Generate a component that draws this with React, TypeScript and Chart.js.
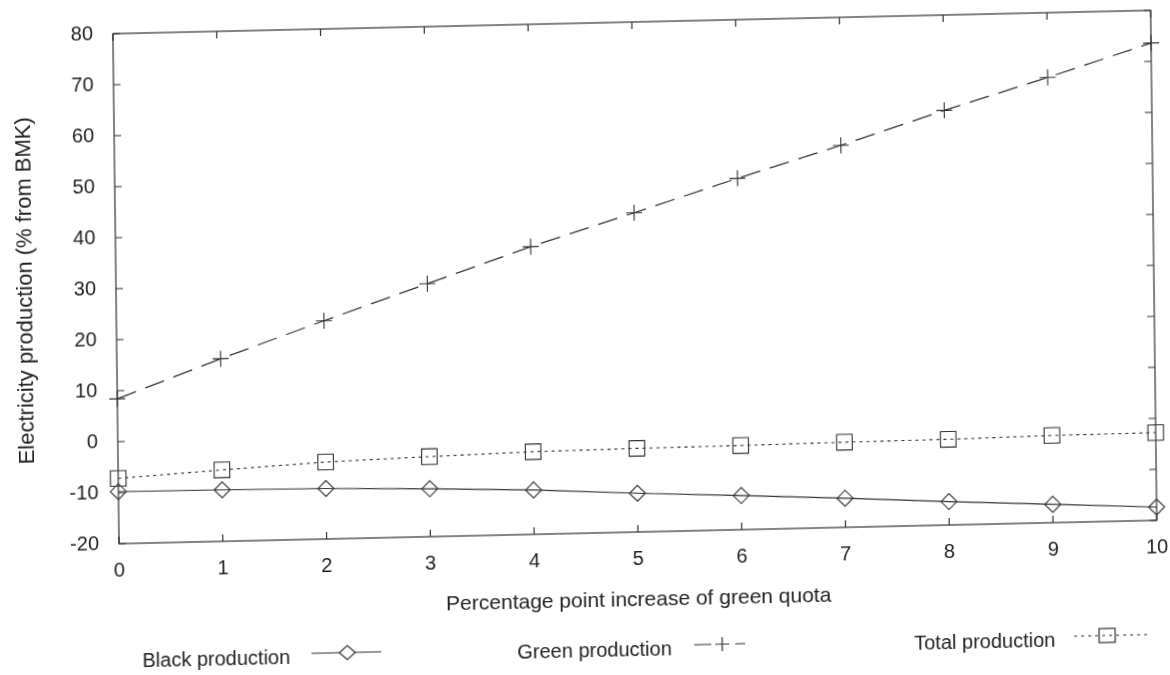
import React, { useEffect, useRef } from "react";
import { Chart, registerables } from "chart.js";

Chart.register(...registerables);

// ---- data ----
const quota = [0, 1, 2, 3, 4, 5, 6, 7, 8, 9, 10];
const blackProduction = [-9.8, -9.9, -10.1, -10.6, -11.3, -12.4, -13.3, -14.3, -15.4, -16.4, -17.4];
const greenProduction = [8.4, 15.8, 22.8, 29.6, 36.4, 42.6, 48.9, 54.9, 61.3, 67.3, 73.6];
const totalProduction = [-7.2, -6.0, -4.9, -4.3, -3.8, -3.6, -3.5, -3.3, -3.2, -2.9, -2.8];
const xTickValues = [0, 1, 2, 3, 4, 5, 6, 7, 8, 9, 10];
const yTickValues = [-20, -10, 0, 10, 20, 30, 40, 50, 60, 70, 80];
const seriesNames = ["Black production", "Green production", "Total production"];
const xTitle = "Percentage point increase of green quota";
const yTitle = "Electricity production (% from BMK)";

const FONT = "'Liberation Sans', Arial, Helvetica, sans-serif";
const INK = "#333";
const TEXT = "#222";

const toXY = (ys: number[]) => quota.map((x, i) => ({ x, y: ys[i] }));

const framePlugin = {
  id: "gnuFrame",
  beforeDatasetsDraw(chart: any) {
    const { ctx, chartArea } = chart;
    const { left, right, top, bottom } = chartArea;
    const xs = chart.scales.x;
    const ys = chart.scales.y;
    const tl = 7;
    ctx.save();
    ctx.strokeStyle = INK;
    ctx.lineWidth = 1.2;
    ctx.setLineDash([]);
    ctx.strokeRect(left, top, right - left, bottom - top);
    ctx.beginPath();
    xTickValues.forEach((v) => {
      const px = xs.getPixelForValue(v);
      ctx.moveTo(px, bottom);
      ctx.lineTo(px, bottom - tl);
      ctx.moveTo(px, top);
      ctx.lineTo(px, top + tl);
    });
    yTickValues.forEach((v) => {
      const py = ys.getPixelForValue(v);
      ctx.moveTo(left, py);
      ctx.lineTo(left + tl, py);
      ctx.moveTo(right, py);
      ctx.lineTo(right - tl, py);
    });
    ctx.stroke();
    ctx.restore();
  },
};

const legendPlugin = {
  id: "gnuLegend",
  afterDraw(chart: any) {
    const { ctx } = chart;
    const ty = 650;
    const sy = 646;
    ctx.save();
    ctx.font = `20px ${FONT}`;
    ctx.fillStyle = TEXT;
    ctx.textBaseline = "middle";
    ctx.textAlign = "left";
    ctx.strokeStyle = INK;
    ctx.lineWidth = 1.2;

    // Black production
    ctx.fillText(seriesNames[0], 138, ty);
    ctx.setLineDash([]);
    ctx.beginPath();
    ctx.moveTo(307, sy);
    ctx.lineTo(377, sy);
    ctx.stroke();
    ctx.fillStyle = "#fff";
    ctx.beginPath();
    ctx.moveTo(343 - 8, sy);
    ctx.lineTo(343, sy - 7);
    ctx.lineTo(343 + 8, sy);
    ctx.lineTo(343, sy + 7);
    ctx.closePath();
    ctx.fill();
    ctx.stroke();

    // Green production
    ctx.fillStyle = TEXT;
    ctx.fillText(seriesNames[1], 513, ty);
    ctx.beginPath();
    ctx.moveTo(690, sy);
    ctx.lineTo(707, sy);
    ctx.moveTo(711, sy);
    ctx.lineTo(725, sy);
    ctx.moveTo(718, sy - 7);
    ctx.lineTo(718, sy + 7);
    ctx.moveTo(731, sy);
    ctx.lineTo(741, sy);
    ctx.stroke();

    // Total production
    ctx.fillText(seriesNames[2], 910, ty);
    ctx.setLineDash([3, 4]);
    ctx.beginPath();
    ctx.moveTo(1070, sy);
    ctx.lineTo(1146, sy);
    ctx.stroke();
    ctx.setLineDash([]);
    ctx.strokeRect(1095, sy - 7, 16, 14);
    ctx.restore();
  },
};

export default function App() {
  const canvasRef = useRef<HTMLCanvasElement | null>(null);

  useEffect(() => {
    const canvas = canvasRef.current;
    if (!canvas) return;
    Chart.defaults.font.family = FONT;
    Chart.defaults.color = TEXT;

    const chart = new Chart(canvas, {
      type: "line",
      data: {
        datasets: [
          {
            label: seriesNames[0],
            data: toXY(blackProduction),
            borderColor: INK,
            backgroundColor: "rgba(0,0,0,0)",
            borderWidth: 1.2,
            pointStyle: "rectRot",
            pointRadius: 8,
            pointBorderWidth: 1.1,
            pointBorderColor: INK,
            pointBackgroundColor: "rgba(0,0,0,0)",
            tension: 0,
            clip: false,
          },
          {
            label: seriesNames[1],
            data: toXY(greenProduction),
            borderColor: INK,
            backgroundColor: "rgba(0,0,0,0)",
            borderWidth: 1.2,
            borderDash: [20, 10],
            pointStyle: "cross",
            pointRadius: 8,
            pointBorderWidth: 1.1,
            pointBorderColor: INK,
            tension: 0,
            clip: false,
          },
          {
            label: seriesNames[2],
            data: toXY(totalProduction),
            borderColor: INK,
            backgroundColor: "rgba(0,0,0,0)",
            borderWidth: 1.1,
            borderDash: [3, 4],
            pointStyle: "rect",
            pointRadius: 11,
            pointBorderWidth: 1.1,
            pointBorderColor: INK,
            pointBackgroundColor: "rgba(0,0,0,0)",
            tension: 0,
            clip: false,
          },
        ],
      },
      options: {
        animation: false,
        responsive: false,
        devicePixelRatio: 1,
        layout: { padding: { left: 0, top: 22, right: 16, bottom: 62 } },
        plugins: {
          legend: { display: false },
          tooltip: { enabled: false },
        },
        scales: {
          x: {
            type: "linear",
            min: 0,
            max: 10,
            afterBuildTicks: (s: any) => {
              s.ticks = xTickValues.map((v) => ({ value: v }));
            },
            afterFit: (s: any) => {
              s.height = 81;
              s.paddingLeft = 0;
              s.paddingRight = 0;
            },
            grid: { display: false, drawTicks: false },
            border: { display: false },
            ticks: {
              padding: 15,
              font: { size: 20 },
              color: TEXT,
              maxRotation: 0,
              autoSkip: false,
            },
            title: {
              display: true,
              text: xTitle,
              font: { size: 21 },
              color: TEXT,
              padding: { top: 17, bottom: 0 },
            },
          },
          y: {
            type: "linear",
            min: -20,
            max: 80,
            afterBuildTicks: (s: any) => {
              s.ticks = yTickValues.map((v) => ({ value: v }));
            },
            afterFit: (s: any) => {
              s.width = 116;
              s.paddingTop = 0;
              s.paddingBottom = 0;
            },
            grid: { display: false, drawTicks: false },
            border: { display: false },
            ticks: {
              padding: 20,
              font: { size: 20 },
              color: TEXT,
              autoSkip: false,
            },
            title: {
              display: true,
              text: yTitle,
              font: { size: 22 },
              color: TEXT,
              padding: { top: 13, bottom: 0 },
            },
          },
        },
      },
      plugins: [framePlugin, legendPlugin],
    });

    return () => chart.destroy();
  }, []);

  return (
    <div
      style={{
        position: "fixed",
        left: 0,
        top: 0,
        width: 1170,
        height: 675,
        overflow: "hidden",
        background: "#fff",
      }}
    >
      <div
        style={{
          width: 1170,
          height: 675,
          transform: "matrix(1, -0.0225, 0.012, 1, 0, 0)",
          transformOrigin: "637px 277px",
        }}
      >
        <canvas ref={canvasRef} width={1170} height={675} style={{ display: "block" }} />
      </div>
    </div>
  );
}
